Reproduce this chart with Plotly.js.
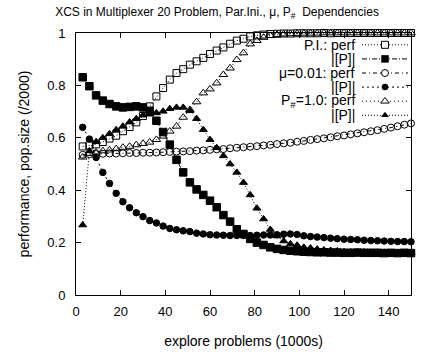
<!DOCTYPE html>
<html>
<head>
<meta charset="utf-8">
<script src="https://cdn.plot.ly/plotly-3.0.1.min.js"></script>
<style>
  html, body { margin: 0; padding: 0; background: #fff; }
  #chart { width: 434px; height: 358px; }
</style>
</head>
<body>
<div id="chart"></div>
<script>
// explore problems (1000s), one sample every 3000 problems
const explore = [3, 6, 9, 12, 15, 18, 21, 24, 27, 30, 33, 36, 39, 42, 45, 48, 51, 54, 57, 60,
                 63, 66, 69, 72, 75, 78, 81, 84, 87, 90, 93, 96, 99, 102, 105, 108, 111, 114, 117, 120,
                 123, 126, 129, 132, 135, 138, 141, 144, 147, 150];

// P.I. (partial initialisation): performance and population size |[P]| / 2000
const piPerf = [0.567, 0.571, 0.575, 0.584, 0.597, 0.608, 0.625, 0.641, 0.659, 0.683,
                0.720, 0.758, 0.790, 0.822, 0.847, 0.862, 0.879, 0.892, 0.905, 0.920,
                0.933, 0.945, 0.959, 0.971, 0.978, 0.987, 0.991, 0.994, 0.996, 0.997,
                0.998, 0.998, 0.999, 0.999, 0.999, 0.999, 1.000, 0.999, 1.000, 1.000,
                1.000, 1.000, 1.000, 1.000, 1.000, 1.000, 1.000, 1.000, 1.000, 1.000];
const piPop  = [0.831, 0.797, 0.762, 0.742, 0.729, 0.720, 0.716, 0.718, 0.720, 0.716,
                0.703, 0.665, 0.622, 0.574, 0.516, 0.468, 0.430, 0.403, 0.382, 0.360,
                0.335, 0.305, 0.280, 0.251, 0.233, 0.214, 0.200, 0.191, 0.182, 0.176,
                0.172, 0.169, 0.167, 0.165, 0.164, 0.163, 0.163, 0.162, 0.162, 0.161,
                0.161, 0.162, 0.161, 0.161, 0.161, 0.160, 0.161, 0.160, 0.161, 0.160];

// mu = 0.01
const muPerf = [0.535, 0.537, 0.538, 0.539, 0.540, 0.540, 0.541, 0.542, 0.542, 0.543,
                0.543, 0.544, 0.545, 0.546, 0.547, 0.548, 0.549, 0.551, 0.552, 0.554,
                0.556, 0.557, 0.560, 0.562, 0.564, 0.566, 0.568, 0.571, 0.573, 0.576,
                0.579, 0.581, 0.585, 0.588, 0.592, 0.595, 0.598, 0.602, 0.606, 0.609,
                0.613, 0.617, 0.621, 0.625, 0.629, 0.634, 0.639, 0.644, 0.650, 0.655];
const muPop  = [0.640, 0.595, 0.525, 0.468, 0.426, 0.388, 0.356, 0.333, 0.314, 0.299,
                0.284, 0.275, 0.263, 0.254, 0.249, 0.245, 0.242, 0.236, 0.233, 0.230,
                0.229, 0.228, 0.227, 0.227, 0.227, 0.227, 0.228, 0.229, 0.229, 0.230,
                0.232, 0.233, 0.231, 0.226, 0.223, 0.221, 0.219, 0.217, 0.215, 0.213,
                0.212, 0.211, 0.209, 0.208, 0.207, 0.206, 0.205, 0.204, 0.204, 0.203];

// P# = 1.0
const psPerf = [0.526, 0.540, 0.545, 0.550, 0.553, 0.558, 0.563, 0.567, 0.573, 0.578,
                0.583, 0.593, 0.606, 0.625, 0.644, 0.678, 0.707, 0.737, 0.771, 0.786,
                0.809, 0.841, 0.866, 0.898, 0.924, 0.958, 0.971, 0.983, 0.990, 0.994,
                0.996, 0.997, 0.998, 0.999, 0.999, 0.999, 1.000, 1.000, 1.000, 1.000,
                1.000, 1.000, 1.000, 1.000, 1.000, 1.000, 1.000, 1.000, 1.000, 1.000];
const psPop  = [0.267, 0.550, 0.585, 0.600, 0.615, 0.631, 0.644, 0.660, 0.673, 0.686,
                0.690, 0.695, 0.701, 0.711, 0.716, 0.716, 0.703, 0.673, 0.631, 0.593,
                0.562, 0.531, 0.500, 0.468, 0.429, 0.382, 0.331, 0.290, 0.250, 0.225,
                0.206, 0.195, 0.190, 0.182, 0.179, 0.175, 0.172, 0.170, 0.168, 0.166,
                0.165, 0.164, 0.164, 0.163, 0.163, 0.163, 0.162, 0.162, 0.162, 0.162];

const legendLabels = ['P.I.: perf', '|[P]|', '\u03bc=0.01: perf', '|[P]|',
                      'P<sub>#</sub>=1.0: perf', '|[P]|'];

const FONT = 'Liberation Sans, Arial, Helvetica, sans-serif';
const INK = '#000';

// drawing style for each curve: line dash, marker symbol, marker size
const styles = [
  { dash: '1px,2px',         symbol: 'square-open',       size: 7 },
  { dash: '5px,2px,1px,2px', symbol: 'square',            size: 7.5 },
  { dash: '4px,3px,1px,3px', symbol: 'circle-open',       size: 7 },
  { dash: '2px,3px',         symbol: 'circle',            size: 6.5 },
  { dash: '1px,3px',         symbol: 'triangle-up-open',  size: 7.5 },
  { dash: '1px,2px',         symbol: 'triangle-up',       size: 7 }
];
const series = [piPerf, piPop, muPerf, muPop, psPerf, psPop];

const traces = series.map((ys, i) => ({
  type: 'scatter',
  mode: 'lines+markers',
  x: explore,
  y: ys,
  showlegend: false,
  cliponaxis: false,
  line: { color: INK, width: 1, dash: styles[i].dash },
  marker: {
    symbol: styles[i].symbol,
    size: styles[i].size,
    color: INK,
    line: { color: INK, width: 1 }
  }
}));

// plot box geometry (px)
const M = { l: 76, r: 23, t: 33, b: 63 };
const W = 434 - M.l - M.r, H = 358 - M.t - M.b;
const px2x = px => (px - M.l) / W;
const px2y = py => (358 - M.b - py) / H;

// key in the top-right corner: right-aligned labels, sample line + glyph to the right
const KEY = { textRight: 357, lineFrom: 362, lineTo: 408, glyph: 385, top: 44.8, step: 14.1 };
const shapes = [];
const annotations = [];
legendLabels.forEach((label, i) => {
  const py = KEY.top + i * KEY.step;
  const yy = px2y(py);
  annotations.push({
    xref: 'paper', yref: 'paper', x: px2x(KEY.textRight), y: yy,
    xanchor: 'right', yanchor: 'middle', showarrow: false,
    text: label, font: { family: FONT, size: 14, color: INK }
  });
  shapes.push({
    type: 'line', xref: 'paper', yref: 'paper',
    x0: px2x(KEY.lineFrom), x1: px2x(KEY.lineTo), y0: yy, y1: yy,
    line: { color: INK, width: 1, dash: styles[i].dash }
  });
  const s = styles[i];
  const filled = !s.symbol.endsWith('open');
  const half = s.size / 2;
  const g = {
    xref: 'paper', yref: 'paper', xsizemode: 'pixel', ysizemode: 'pixel',
    xanchor: px2x(KEY.glyph), yanchor: yy,
    line: { color: INK, width: filled ? 0 : 1 },
    fillcolor: filled ? INK : '#fff'
  };
  if (s.symbol.startsWith('square')) {
    Object.assign(g, { type: 'rect', x0: -half, x1: half, y0: -half, y1: half });
  } else if (s.symbol.startsWith('circle')) {
    Object.assign(g, { type: 'circle', x0: -half, x1: half, y0: -half, y1: half });
  } else {
    const rt = half * 2 / Math.sqrt(3);
    Object.assign(g, { type: 'path',
      path: 'M' + (-rt) + ',' + (-half / 2) + ' L' + rt + ',' + (-half / 2) + ' L0,' + half + ' Z' });
  }
  shapes.push(g);
});

const axisBase = {
  showline: true, linecolor: INK, linewidth: 1, mirror: 'ticks',
  ticks: 'inside', ticklen: 5, tickwidth: 1, tickcolor: INK,
  showgrid: false, zeroline: false,
  tickfont: { family: FONT, size: 13, color: INK }
};

const layout = {
  width: 434, height: 358,
  margin: M,
  paper_bgcolor: '#fff', plot_bgcolor: '#fff',
  font: { family: FONT, color: INK },
  title: {
    text: 'XCS in Multiplexer 20 Problem, Par.Ini., \u03bc, P<sub>#</sub>\u00a0 Dependencies',
    font: { family: FONT, size: 12, color: INK },
    x: 0.5, xref: 'container', xanchor: 'center',
    y: 1 - 12 / 358, yref: 'container', yanchor: 'middle'
  },
  xaxis: Object.assign({}, axisBase, {
    range: [0, 150], tickvals: [0, 20, 40, 60, 80, 100, 120, 140],
    ticklabelstandoff: 4,
    title: { text: 'explore problems (1000s)', font: { family: FONT, size: 14, color: INK }, standoff: 18 }
  }),
  yaxis: Object.assign({}, axisBase, {
    range: [0, 1], tickvals: [0, 0.2, 0.4, 0.6, 0.8, 1],
    ticktext: ['0', '0.2', '0.4', '0.6', '0.8', '1'],
    ticklabelstandoff: 7,
    title: { text: 'performance, pop.size (/2000)', font: { family: FONT, size: 14, color: INK }, standoff: 14 }
  }),
  shapes: shapes,
  annotations: annotations
};

Plotly.newPlot('chart', traces, layout, { displayModeBar: false, staticPlot: true });
</script>
</body>
</html>
